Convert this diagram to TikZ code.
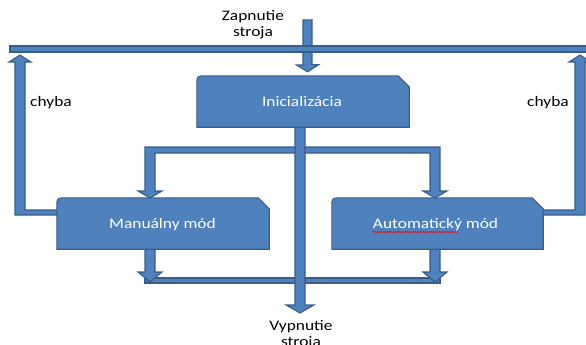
\documentclass[tikz,border=0pt]{standalone}
\usepackage{fontspec}
\setmainfont{Carlito}[FakeStretch=1.2]
\usetikzlibrary{calc,decorations.pathmorphing}
\definecolor{blkfill}{HTML}{4F81BD}
\definecolor{blkline}{HTML}{385D8A}
\newcommand\boxshape[1]{%
  \path[blk] (#1.south west) -- ($(#1.north west)+(0,10)$)
    .. controls (#1.north west) .. ($(#1.north west)+(10,0)$)
    -- ($(#1.north east)+(-11,0)$) -- ($(#1.north east)+(0,11)$)
    -- (#1.south east) -- cycle;}
\begin{document}
\begin{tikzpicture}[x=1pt,y=-1pt,
  blk/.style={fill=blkfill,draw=blkline,line width=1.1pt,line join=miter},
  lbl/.style={font=\fontsize{14.5}{16}\selectfont,align=center,inner sep=0pt},
  boxtxt/.style={lbl,text=white},
  boxnode/.style={minimum width=212pt,minimum height=51pt,inner sep=0pt}]
\useasboundingbox (0,0) rectangle (586,345);
% named nodes (geometry)
\node[boxnode] (init) at (303,101.5) {};
\node[boxnode] (man) at (163,223.5) {};
\node[boxnode,minimum width=211pt] (aut) at (437.5,223.5) {};
\coordinate (start) at (307.5,20);
\coordinate (stop) at (300,313);
% start arrow
\path[blk] (start) ++(-4.5,0) -- ++(0,45) -- ++(-6.5,0) -- ($(init.north)+(4.5,-4)$) -- ++(11,-7) -- ++(-6.5,0) -- ++(0,-45) -- cycle;
% top bar
\path[blk] (10,46) rectangle (592,52);
% left chyba loop
\path[blk] (man.west |- 0,210) -- (25,210) -- (25,62) -- (31,62) -- (20,55) -- (9,62) -- (15,62) -- (15,215) -- (man.west |- 0,215);
% right chyba loop
\path[blk] (aut.east |- 0,210) -- (575,210) -- (575,62) -- (569,62) -- (580,55) -- (591,62) -- (585,62) -- (585,215) -- (aut.east |- 0,215);
% branch from init
\path[blk] (145,147) -- (440,147) -- (440,191) -- (447,191) -- (435,198) -- (423,191)
  -- (430,191) -- (430,153) -- (155,153) -- (155,191) -- (162,191) -- (150,198)
  -- (138,191) -- (145,191) -- cycle;
% bottom bar
\path[blk] (145,278) rectangle (440,283);
% bottom arrows from boxes
\path[blk] (145,249) -- (145,272) -- (138,272) -- (150,282) -- (162,272) -- (155,272) -- (155,249) -- cycle;
\path[blk] (430,249) -- (430,272) -- (423,272) -- (435,282) -- (447,272) -- (440,272) -- (440,249) -- cycle;
% central arrow
\path[blk] (295,127) -- (295,305) -- (286,305) -- (stop) -- (314,305) -- (305,305) -- (305,127) -- cycle;
% boxes
\boxshape{init}
\boxshape{man}
\boxshape{aut}
\node[boxtxt] (tinit) at (302,102) {Inicializácia};
\node[boxtxt] (tman) at (162.5,225) {Manuálny mód};
\node[boxtxt] (taut) at (435.5,225) {Automatický mód};
\draw[red!80!black,line width=0.4pt,decorate,decoration={snake,amplitude=0.5pt,segment length=2pt}] (373,232) -- (458,232);
% labels
\node[lbl] (zap) at (253,25) {Zapnutie\\stroja};
\node[lbl] (chl) at (51,103) {chyba};
\node[lbl] (chr) at (548,103) {chyba};
\node[lbl] (vyp) at (301,335) {Vypnutie\\stroja};
\end{tikzpicture}
\end{document}
